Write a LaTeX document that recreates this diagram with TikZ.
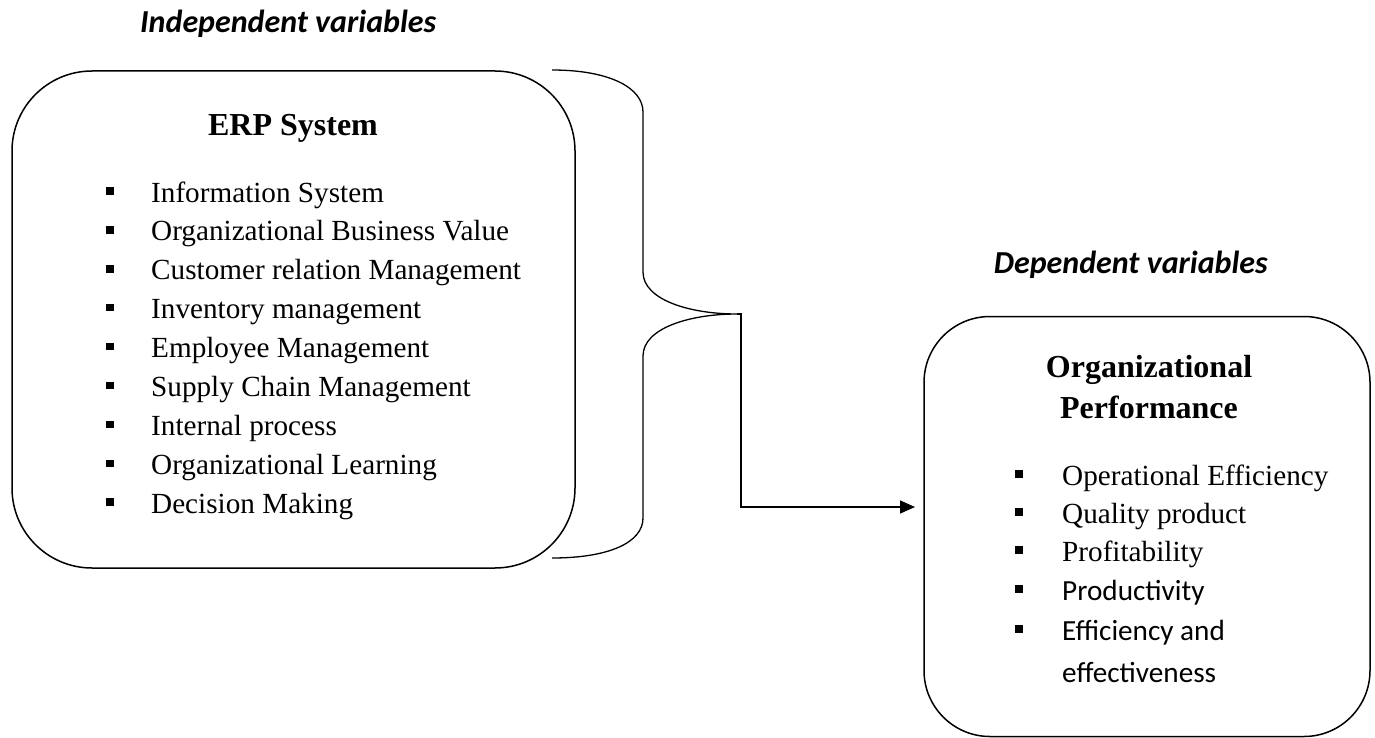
\documentclass[tikz,border=0pt]{standalone}
\usepackage{fontspec}
\setmainfont{Liberation Serif}
\newfontfamily\calfont{Carlito}
\usetikzlibrary{arrows.meta}
\tikzset{
  box/.style={draw, line width=1.5pt, inner sep=0pt},
  bul/.style={fill, rectangle, minimum size=7.5pt, inner sep=0pt},
  item/.style={anchor=base west, inner sep=0pt, font=\fontsize{29.2}{31}\selectfont},
  citem/.style={anchor=base west, inner sep=0pt, font=\calfont\fontsize{29.2}{31}\selectfont},
  head/.style={anchor=base, inner sep=0pt, font=\bfseries\fontsize{32}{34}\selectfont},
  vars/.style={inner sep=0pt, font=\calfont\bfseries\itshape\fontsize{32}{34}\selectfont},
  brace/.style={line width=1.3pt},
  conn/.style={line width=1.5pt, -{Triangle[length=15pt,width=13pt]}}
}
\begin{document}
\begin{tikzpicture}[x=1pt,y=-1pt]
\useasboundingbox (0,0) rectangle (1375,738);
% boxes
\node[box, rounded corners=80pt, minimum width=563pt, minimum height=497pt] (erp) at (293.5,319.5) {};
\node[box, rounded corners=66pt, minimum width=446pt, minimum height=420pt] (op) at (1147,526.5) {};
% headers
\node[vars, anchor=base west] (iv) at (140,33) {Independent variables};
\node[vars, anchor=base east] (dv) at (1268,273) {Dependent variables};
\node[head] (erph) at (293,136) {ERP System};
\node[head] (oph1) at (1149,377) {Organizational};
\node[head] (oph2) at (1149,418) {Performance};
% left list
\foreach \t [count=\i] in {Information System, Organizational Business Value, Customer relation Management, Inventory management, Employee Management, Supply Chain Management, Internal process, Organizational Learning, Decision Making}{
  \pgfmathsetmacro{\yy}{202+(\i-1)*38.9}
  \node[bul] (lb\i) at (110,\yy-11) {};
  \node[item] (lt\i) at (151,\yy) {\t};
}
% right list
\node[bul] (rb1) at (1019,474) {};
\node[item] (rt1) at (1062,485) {Operational Efficiency};
\node[bul] (rb2) at (1019,512) {};
\node[item] (rt2) at (1062,523) {Quality product};
\node[bul] (rb3) at (1019,550) {};
\node[item] (rt3) at (1062,561) {Profitability};
\node[bul] (rb4) at (1019,589) {};
\node[citem] (rt4) at (1062,600) {Productivity};
\node[bul] (rb5) at (1019,629) {};
\node[citem] (rt5) at (1062,640) {Efficiency and};
\node[citem] (rt6) at (1062,682) {effectiveness};
% brace
\coordinate (tip) at (737,314);
\draw[brace] (552,70) .. controls (610,70) and (643,88) .. (643,112)
  -- (643,272) .. controls (643,300) and (690,314) .. (tip)
  .. controls (690,314) and (643,328) .. (643,356)
  -- (643,518) .. controls (643,542) and (610,558) .. (552,558);
% connector
\coordinate (bend) at (741,507);
\coordinate (aend) at (915,507);
\draw[conn] (tip) -| (bend) -- (aend);
\end{tikzpicture}
\end{document}
